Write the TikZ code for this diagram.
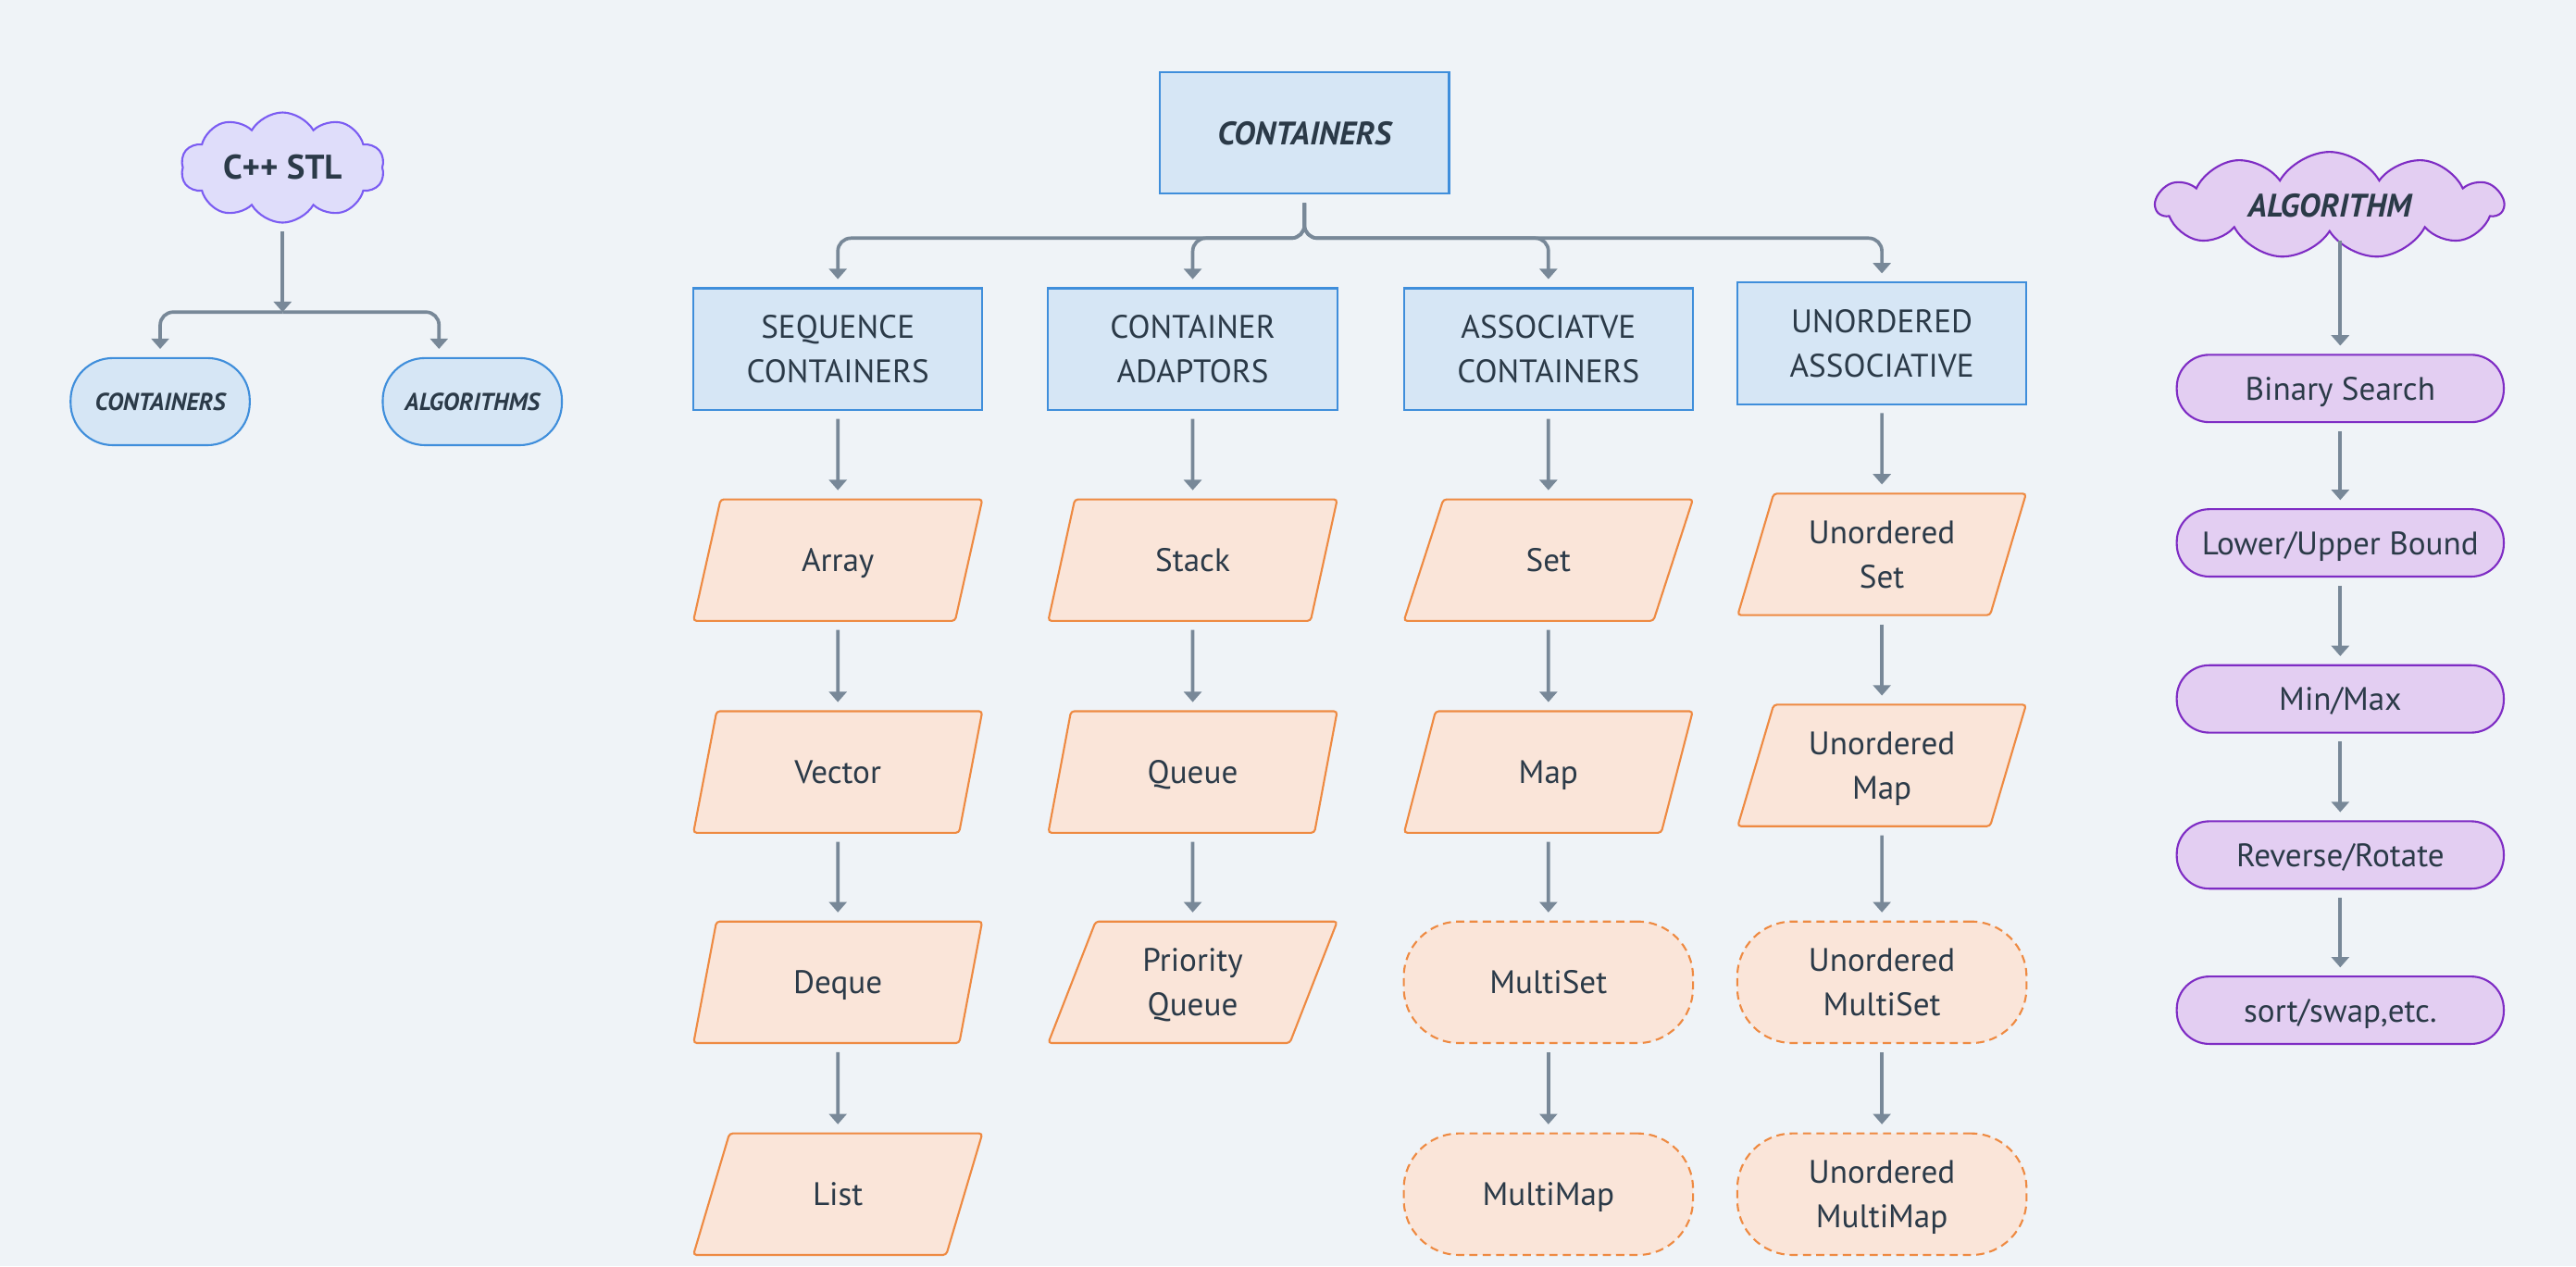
\documentclass[tikz,border=0pt]{standalone}
\usepackage{fontspec}
\setmainfont{PT Sans}
\usetikzlibrary{shapes.geometric,shapes.symbols,shapes.misc,arrows.meta}
\definecolor{bg}{HTML}{EFF3F7}
\definecolor{txt}{HTML}{2B3A48}
\definecolor{bl}{HTML}{3F8EDB}
\definecolor{blf}{HTML}{D6E6F5}
\definecolor{orl}{HTML}{EE8A42}
\definecolor{orf}{HTML}{FAE5D9}
\definecolor{lav}{HTML}{7B5CF2}
\definecolor{lavf}{HTML}{DFDDFA}
\definecolor{pur}{HTML}{7E2CC4}
\definecolor{purf}{HTML}{E3CEF2}
\definecolor{arc}{HTML}{788898}
\newcommand\nd[1]{\raisebox{0pt}[\height][0pt]{#1}}
\tikzset{
  base/.style={align=center, inner sep=0pt, text=txt, line width=0.6pt},
  bluebox/.style={base, rectangle, draw=bl, fill=blf, minimum width=3.124cm, minimum height=1.313cm},
  para/.style={base, trapezium, trapezium left angle=70, trapezium right angle=110, trapezium stretches=true,
    draw=orl, fill=orf, minimum width=3.124cm, minimum height=1.313cm, rounded corners=1pt},
  dashpill/.style={base, rectangle, rounded corners=17pt, draw=orl, fill=orf, dash pattern=on 2.5pt off 1.6pt,
    minimum width=3.124cm, minimum height=1.313cm},
  bpill/.style={base, rectangle, rounded corners=13pt, draw=bl, fill=blf, minimum width=1.935cm, minimum height=0.941cm,
    font=\fontsize{7.5}{9}\selectfont\bfseries\itshape},
  ppill/.style={base, rectangle, rounded corners=10pt, draw=pur, fill=purf, minimum width=3.532cm, minimum height=0.728cm},
  cloudA/.style={base, cloud, cloud puffs=10, cloud puff arc=120, cloud ignores aspect, draw=lav, fill=lavf,
    minimum width=2.2cm, minimum height=1.19cm, font=\fontsize{10.5}{12}\selectfont\bfseries},
  cloudB/.style={base, cloud, cloud puffs=11, cloud puff arc=120, cloud ignores aspect, draw=pur, fill=purf,
    minimum width=3.745cm, minimum height=1.154cm, font=\fontsize{10}{12}\selectfont\bfseries\itshape},
  arr/.style={draw=arc, line width=1.05pt, -{Triangle[length=3.2pt,width=5.4pt]}, shorten >=2.5pt, shorten <=2.5pt},
  branch/.style={arr, rounded corners=4pt}
}
\begin{document}
\begin{tikzpicture}[x=0.017749cm, y=-0.017749cm, font=\fontsize{10}{13.6}\selectfont]
\fill[bg] (0,0) rectangle (1568,771);
\useasboundingbox (0,0) rectangle (1568,771);

% left
\node[cloudA] (stl) at (172,102) {C++ STL};
\node[bpill] (lcont) at (97.5,244.5) {CONTAINERS};
\node[bpill] (lalg) at (287.5,244.5) {ALGORITHMS};
\coordinate (j1) at (172,190);
\draw[arr, shorten >=0pt] (stl.south) -- (j1);
\draw[branch, shorten <=0pt] (j1) -| (lcont.north);
\draw[branch, shorten <=0pt] (j1) -| ([xshift=-0.36cm]lalg.north);

% centre
\node[bluebox, font=\fontsize{10}{12}\selectfont\bfseries\itshape] (top) at (794,81) {CONTAINERS};
\node[bluebox] (seq) at (510,212.5) {SEQUENCE\\CONTAINERS};
\node[bluebox] (ada) at (726,212.5) {CONTAINER\\ADAPTORS};
\node[bluebox] (ass) at (942.5,212.5) {ASSOCIATVE\\CONTAINERS};
\node[bluebox] (uno) at (1145.5,209) {UNORDERED\\ASSOCIATIVE};
\coordinate (j2) at (794,145);
\draw[branch] (top.south) -- (j2) -| (seq.north);
\draw[branch] (top.south) -- (j2) -| (ada.north);
\draw[branch] (top.south) -- (j2) -| (ass.north);
\draw[branch] (top.south) -- (j2) -| (uno.north);

\node[para] (array) at (510,341) {\nd{Array}};
\node[para] (vector) at (510,470) {\nd{Vector}};
\node[para] (deque) at (510,598) {\nd{Deque}};
\node[para] (list) at (510,727) {\nd{List}};
\draw[arr] (seq.south) -- (array.north);
\draw[arr] (array.south) -- (vector.north);
\draw[arr] (vector.south) -- (deque.north);
\draw[arr] (deque.south) -- (list.north);

\node[para] (stack) at (726,341) {\nd{Stack}};
\node[para] (queue) at (726,470) {\nd{Queue}};
\node[para] (pq) at (726,598) {\nd{Priority}\\\nd{Queue}};
\draw[arr] (ada.south) -- (stack.north);
\draw[arr] (stack.south) -- (queue.north);
\draw[arr] (queue.south) -- (pq.north);

\node[para] (set) at (942.5,341) {\nd{Set}};
\node[para] (map) at (942.5,470) {\nd{Map}};
\node[dashpill] (mset) at (942.5,598) {\nd{MultiSet}};
\node[dashpill] (mmap) at (942.5,727) {\nd{MultiMap}};
\draw[arr] (ass.south) -- (set.north);
\draw[arr] (set.south) -- (map.north);
\draw[arr] (map.south) -- (mset.north);
\draw[arr] (mset.south) -- (mmap.north);

\node[para] (uset) at (1145.5,337.5) {\nd{Unordered}\\\nd{Set}};
\node[para] (umap) at (1145.5,466) {\nd{Unordered}\\\nd{Map}};
\node[dashpill] (umset) at (1145.5,598) {\nd{Unordered}\\\nd{MultiSet}};
\node[dashpill] (ummap) at (1145.5,727) {\nd{Unordered}\\\nd{MultiMap}};
\draw[arr] (uno.south) -- (uset.north);
\draw[arr] (uset.south) -- (umap.north);
\draw[arr] (umap.south) -- (umset.north);
\draw[arr] (umset.south) -- (ummap.north);

% right
\node[cloudB] (alg) at (1418,125) {ALGORITHM};
\node[ppill] (bs) at (1424.5,236.5) {\nd{Binary Search}};
\node[ppill] (lub) at (1424.5,330.5) {\nd{Lower/Upper Bound}};
\node[ppill] (mm) at (1424.5,425.5) {\nd{Min/Max}};
\node[ppill] (rr) at (1424.5,520.5) {\nd{Reverse/Rotate}};
\node[ppill] (ss) at (1424.5,615) {\nd{sort/swap,etc.}};
\draw[arr] (bs.north |- alg.south) -- (bs.north);
\draw[arr] (bs.south) -- (lub.north);
\draw[arr] (lub.south) -- (mm.north);
\draw[arr] (mm.south) -- (rr.north);
\draw[arr] (rr.south) -- (ss.north);
\end{tikzpicture}
\end{document}
